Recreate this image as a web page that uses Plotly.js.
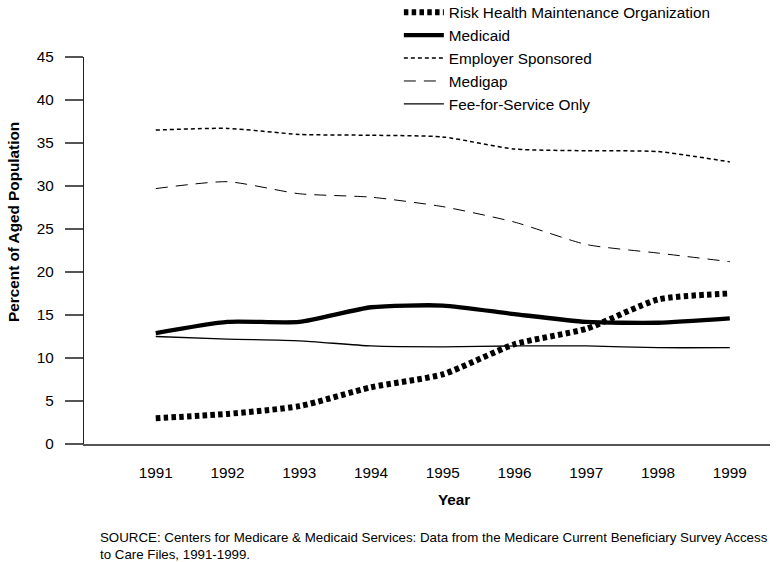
<!DOCTYPE html>
<html>
<head>
<meta charset="utf-8">
<script src="https://cdn.plot.ly/plotly-3.0.1.min.js"></script>
<style>html,body{margin:0;padding:0;background:#fff;}#chart{width:776px;height:562px;}</style>
</head>
<body>
<div id="chart"></div>
<script>
const years = [1991, 1992, 1993, 1994, 1995, 1996, 1997, 1998, 1999];
const riskHMO = [3.0, 3.5, 4.4, 6.6, 8.1, 11.6, 13.4, 16.8, 17.5];
const medicaid = [12.9, 14.2, 14.2, 15.9, 16.1, 15.1, 14.2, 14.1, 14.6];
const employer = [36.5, 36.7, 36.0, 35.9, 35.7, 34.3, 34.1, 34.0, 32.8];
const medigap = [29.7, 30.5, 29.1, 28.7, 27.6, 25.8, 23.2, 22.2, 21.2];
const ffsOnly = [12.5, 12.2, 12.0, 11.4, 11.3, 11.4, 11.4, 11.2, 11.2];
const yTicks = [0, 5, 10, 15, 20, 25, 30, 35, 40, 45];

const font = "Liberation Sans, Arial, Helvetica, sans-serif";
function tr(name, y, width, dash) {
  return {x: years, y: y, name: name, type: 'scatter', mode: 'lines',
    line: {color: '#000', width: width, dash: dash, shape: 'spline', smoothing: 0.6}};
}
const data = [
  tr('Risk Health Maintenance Organization', riskHMO, 6, '4.5px,3.3px'),
  tr('Medicaid', medicaid, 4.3, 'solid'),
  tr('Employer Sponsored', employer, 1.5, '4px,3px'),
  tr('Medigap', medigap, 1, '12px,8px'),
  tr('Fee-for-Service Only', ffsOnly, 1.3, 'solid')
];
const layout = {
  width: 776, height: 562,
  margin: {l: 84, r: 6, t: 57, b: 118, autoexpand: false},
  paper_bgcolor: '#fff', plot_bgcolor: '#fff',
  font: {family: font, size: 15, color: '#000'},
  showlegend: true,
  legend: {x: 0.459, y: 1.158, xanchor: 'left', yanchor: 'top', bgcolor: 'rgba(0,0,0,0)',
    font: {family: font, size: 15.3, color: '#000'}, tracegroupgap: 0, itemwidth: 40},
  xaxis: {range: [1990.0, 1999.56], tickvals: years, ticktext: years.map(String),
    showgrid: false, zeroline: false, showline: true, linecolor: '#555', linewidth: 1.5,
    ticks: '', ticklabelstandoff: 14, tickfont: {family: font, size: 15.3, color: '#000'}},
  yaxis: {range: [0, 45], tickvals: yTicks, showgrid: false, zeroline: false,
    showline: true, linecolor: '#222', linewidth: 1.2,
    ticks: 'outside', ticklen: 18, tickcolor: '#555', tickwidth: 1.2,
    ticklabelstandoff: 8, tickfont: {family: font, size: 15.3, color: '#000'}},
  annotations: [
    {text: '<b>Year</b>', xref: 'paper', yref: 'paper', x: 0.539, y: -0.143,
      xanchor: 'center', yanchor: 'middle', showarrow: false, font: {family: font, size: 15.3}},
    {text: '<b>Percent of Aged Population</b>', xref: 'paper', yref: 'paper', x: -0.102, y: 0.574,
      textangle: -90, xanchor: 'center', yanchor: 'middle', showarrow: false, font: {family: font, size: 15.3}},
    {text: 'SOURCE: Centers for Medicare &amp; Medicaid Services: Data from the Medicare Current Beneficiary Survey Access<br>to Care Files, 1991-1999.',
      xref: 'paper', yref: 'paper', x: 0.02, y: -0.217, xanchor: 'left', yanchor: 'top', align: 'left',
      showarrow: false, font: {family: font, size: 13.3}}
  ]
};
Plotly.newPlot('chart', data, layout, {displayModeBar: false, staticPlot: true});
</script>
</body>
</html>
